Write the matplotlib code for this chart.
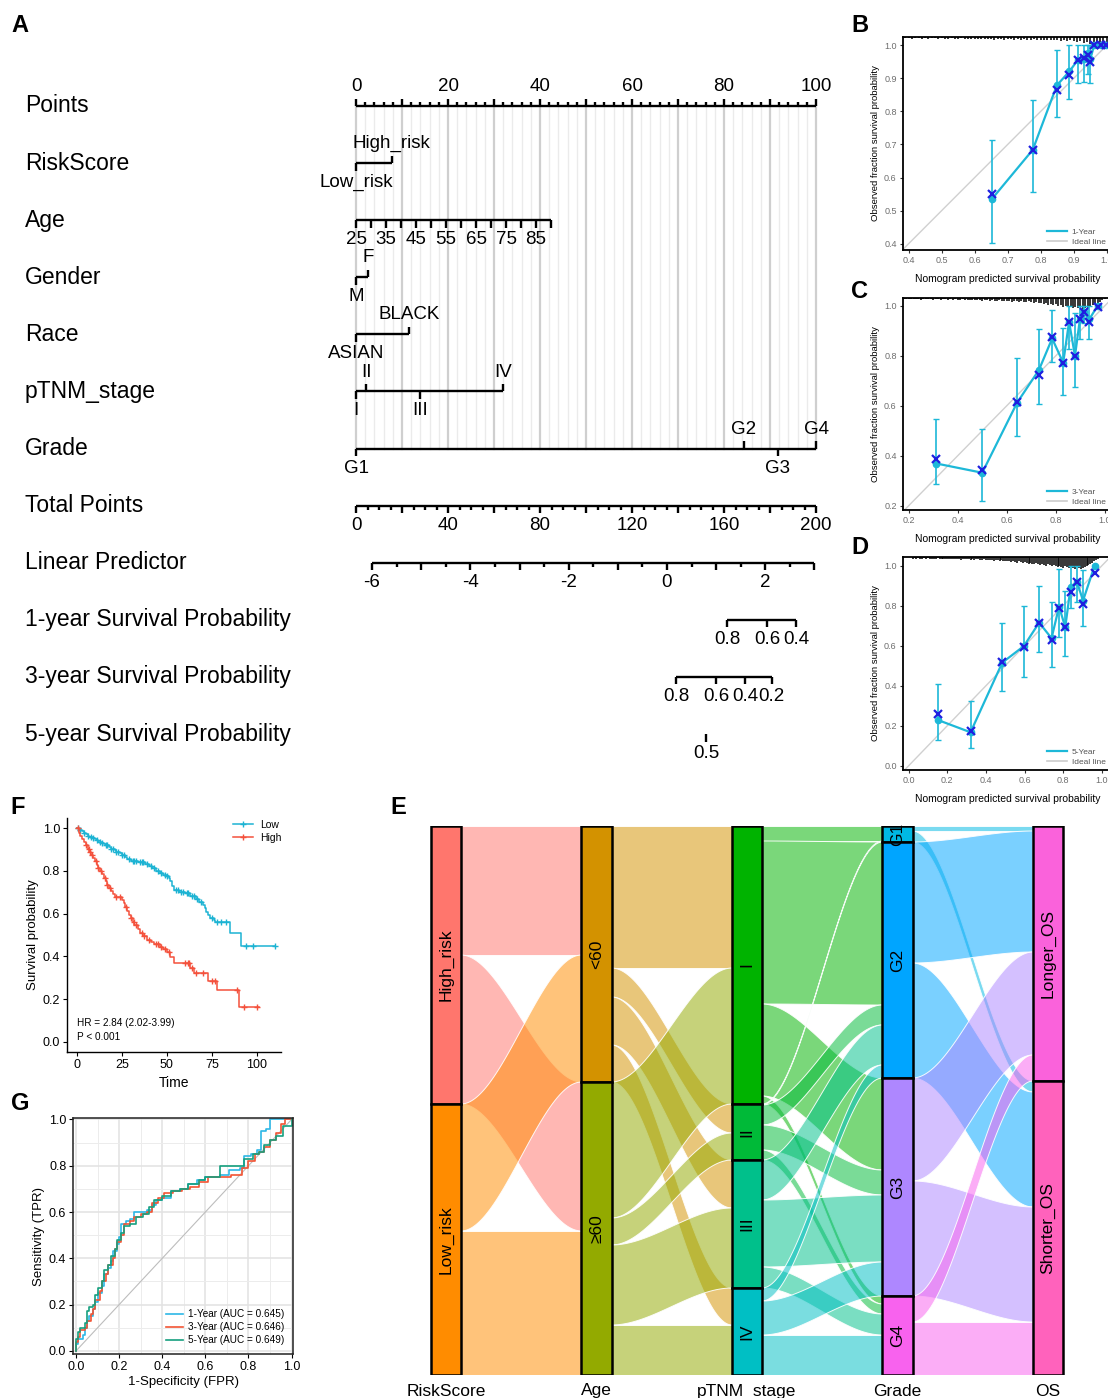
import matplotlib
matplotlib.use('Agg')
import matplotlib.pyplot as plt
import matplotlib.transforms as mtrans
from matplotlib.patches import Rectangle, Polygon
from matplotlib.lines import Line2D
import numpy as np

plt.rcParams['font.family'] = ['Liberation Sans', 'DejaVu Sans']

W, H = 1108, 1398
fig = plt.figure(figsize=(W / 100, H / 100), dpi=100)


def add_ax(x0, y0, x1, y1):
    return fig.add_axes([x0 / W, 1 - y1 / H, (x1 - x0) / W, (y1 - y0) / H])


# ---------------------------------------------------------------- data: nomogram (A)
nomo_rows = ['Points', 'RiskScore', 'Age', 'Gender', 'Race', 'pTNM_stage', 'Grade',
             'Total Points', 'Linear Predictor', '1-year Survival Probability',
             '3-year Survival Probability', '5-year Survival Probability']
points_labels = [0, 20, 40, 60, 80, 100]
risk_levels = ['Low_risk', 'High_risk']
risk_points = [0, 7.8]
age_range = [25, 90]
age_max_points = 42.4
age_labels = [25, 35, 45, 55, 65, 75, 85]
gender_levels = ['M', 'F']
gender_points = [0, 2.6]
race_levels = ['ASIAN', 'BLACK']
race_points = [0, 11.5]
stage_levels = ['I', 'II', 'III', 'IV']
stage_points = [0, 2.2, 13.9, 32.0]
grade_levels = ['G1', 'G2', 'G3', 'G4']
grade_points = [0, 84.3, 91.7, 100]
total_labels = [0, 40, 80, 120, 160, 200]
lp_range = [-6, 3]
lp_labels = [-6, -4, -2, 0, 2]
lp_tp_at_zero = 135.2   # total points where linear predictor = 0
lp_tp_per_unit = 21.37  # total points per unit of linear predictor
surv1_labels = [0.8, 0.6, 0.4]
surv1_tp = [161.3, 178.7, 191.3]
surv3_labels = [0.8, 0.6, 0.4, 0.2]
surv3_tp = [139.2, 156.6, 169.2, 180.8]
surv5_labels = [0.5]
surv5_tp = [152.2]

# ---------------------------------------------------------------- data: calibration (B, C, D)
calB_pred = [0.652, 0.776, 0.849, 0.887, 0.912, 0.932, 0.942, 0.950, 0.962, 0.982, 0.997]
calB_obs = [0.535, 0.684, 0.879, 0.921, 0.955, 0.958, 0.977, 0.958, 1.0, 1.0, 1.0]
calB_bc = [0.550, 0.684, 0.866, 0.911, 0.955, 0.962, 0.972, 0.950, 1.0, 1.0, 1.0]
calB_lo = [0.403, 0.556, 0.783, 0.838, 0.886, 0.890, 0.914, 0.886, 1.0, 1.0, 1.0]
calB_hi = [0.714, 0.835, 0.987, 1.0, 1.0, 1.0, 1.0, 1.0, 1.0, 1.0, 1.0]
rugB_h = [0.004, 0.003, 0.005, 0.004, 0.003, 0.005, 0.004, 0.006, 0.004, 0.003,
          0.005, 0.004, 0.006, 0.005, 0.004, 0.006, 0.005, 0.004, 0.006, 0.005,
          0.006, 0.005, 0.007, 0.006, 0.005, 0.007, 0.006, 0.008, 0.006, 0.007,
          0.008, 0.006, 0.007, 0.009, 0.007, 0.008, 0.006, 0.009, 0.008, 0.007,
          0.009, 0.008, 0.010, 0.009, 0.008, 0.010, 0.009, 0.011, 0.010, 0.012,
          0.010, 0.012, 0.015, 0.013, 0.018, 0.016, 0.022, 0.020, 0.026, 0.024,
          0.020, 0.016]
rugB_start = 0.39

calC_pred = [0.313, 0.500, 0.642, 0.731, 0.785, 0.830, 0.854, 0.878, 0.898, 0.914, 0.936, 0.970]
calC_obs = [0.369, 0.332, 0.612, 0.743, 0.869, 0.772, 0.936, 0.799, 0.945, 0.973, 0.945, 1.0]
calC_bc = [0.389, 0.343, 0.616, 0.725, 0.873, 0.769, 0.936, 0.799, 0.945, 0.973, 0.936, 0.996]
calC_lo = [0.287, 0.219, 0.479, 0.609, 0.776, 0.643, 0.829, 0.676, 0.865, 0.930, 0.868, 1.0]
calC_hi = [0.549, 0.507, 0.789, 0.905, 0.983, 0.912, 1.0, 0.969, 1.0, 1.0, 1.0, 1.0]
rugC_h = [0.005, 0.004, 0.006, 0.005, 0.004, 0.006, 0.005, 0.007, 0.005, 0.004,
          0.006, 0.005, 0.007, 0.006, 0.005, 0.007, 0.006, 0.005, 0.007, 0.006,
          0.008, 0.006, 0.007, 0.008, 0.006, 0.009, 0.007, 0.008, 0.009, 0.007,
          0.010, 0.008, 0.011, 0.009, 0.010, 0.012, 0.009, 0.011, 0.013, 0.010,
          0.012, 0.014, 0.011, 0.013, 0.015, 0.012, 0.014, 0.016, 0.013, 0.015,
          0.018, 0.014, 0.017, 0.020, 0.016, 0.019, 0.022, 0.025, 0.021, 0.028,
          0.024, 0.030, 0.026, 0.034, 0.029, 0.036, 0.031, 0.038, 0.033, 0.040,
          0.035, 0.042, 0.037, 0.044, 0.039, 0.040, 0.036, 0.030, 0.025, 0.020,
          0.015, 0.010, 0.006]
rugC_start = 0.18

calD_pred = [0.152, 0.320, 0.484, 0.596, 0.675, 0.739, 0.778, 0.810, 0.838, 0.871, 0.902, 0.962]
calD_obs = [0.228, 0.167, 0.515, 0.598, 0.715, 0.637, 0.795, 0.692, 0.895, 0.917, 0.825, 1.0]
calD_bc = [0.258, 0.175, 0.520, 0.595, 0.712, 0.628, 0.790, 0.692, 0.870, 0.920, 0.810, 0.962]
calD_lo = [0.128, 0.087, 0.375, 0.445, 0.567, 0.495, 0.645, 0.550, 0.787, 0.820, 0.698, 1.0]
calD_hi = [0.408, 0.323, 0.712, 0.798, 0.900, 0.820, 0.982, 0.875, 1.0, 1.0, 0.978, 1.0]
rugD_h = [0.008, 0.006, 0.009, 0.007, 0.010, 0.008, 0.006, 0.009, 0.007, 0.010,
          0.008, 0.011, 0.009, 0.007, 0.010, 0.008, 0.011, 0.009, 0.012, 0.010,
          0.008, 0.011, 0.009, 0.012, 0.010, 0.013, 0.011, 0.009, 0.012, 0.010,
          0.013, 0.011, 0.014, 0.012, 0.010, 0.013, 0.015, 0.012, 0.014, 0.016,
          0.013, 0.015, 0.018, 0.014, 0.017, 0.020, 0.016, 0.019, 0.022, 0.018,
          0.021, 0.025, 0.020, 0.024, 0.028, 0.022, 0.027, 0.031, 0.025, 0.030,
          0.034, 0.028, 0.033, 0.037, 0.031, 0.036, 0.040, 0.034, 0.039, 0.043,
          0.037, 0.042, 0.046, 0.040, 0.045, 0.050, 0.043, 0.048, 0.053, 0.046,
          0.051, 0.056, 0.049, 0.054, 0.058, 0.052, 0.057, 0.060, 0.055, 0.050,
          0.045, 0.040, 0.034, 0.028, 0.020, 0.014, 0.008]
rugD_start = 0.02

# ---------------------------------------------------------------- data: Kaplan-Meier (F)
low_times = [1, 2, 3, 4, 5, 6, 7, 9, 10, 11, 12, 14, 15, 16, 18, 19, 21, 22, 24, 25,
             27, 28, 30, 34, 38, 40, 42, 44, 46, 48, 50, 51, 52, 53, 54, 57, 60, 63, 66, 68,
             70, 71, 72, 73, 74, 76, 77, 85, 91]
low_surv = [0.995, 0.99, 0.985, 0.978, 0.972, 0.966, 0.96, 0.955, 0.948, 0.943, 0.938,
            0.932, 0.926, 0.92, 0.913, 0.905, 0.898, 0.891, 0.884, 0.877, 0.866, 0.858,
            0.848, 0.84, 0.832, 0.823, 0.812, 0.801, 0.79, 0.782, 0.775, 0.765, 0.755,
            0.73, 0.71, 0.702, 0.695, 0.683, 0.668, 0.655, 0.64, 0.625, 0.61, 0.595,
            0.58, 0.57, 0.5625, 0.508, 0.448]
low_end = 110
low_censor = [0.5, 2, 4, 6, 8, 9, 11, 13, 14, 16, 17, 19, 20, 22, 23, 25, 26, 29, 31, 32,
              33, 35, 36, 37, 39, 41, 43, 45, 47, 49, 50, 55, 56, 58, 59, 61, 62, 64, 65,
              67, 69, 75, 78, 80, 83, 94, 98, 110]
high_times = [1, 2, 3, 4, 5, 6, 7, 8, 9, 10, 11, 12, 13, 14, 15, 16, 17, 18, 19, 20, 21,
              25, 26, 27, 28, 29, 30, 31, 32, 34, 35, 37, 39, 41, 43, 46, 48, 50, 52, 54,
              63, 65, 73, 78, 90]
high_surv = [0.98, 0.965, 0.95, 0.935, 0.92, 0.905, 0.89, 0.875, 0.86, 0.845, 0.83,
             0.815, 0.8, 0.785, 0.768, 0.752, 0.736, 0.72, 0.705, 0.69, 0.677, 0.664,
             0.648, 0.633, 0.614, 0.594, 0.578, 0.562, 0.545, 0.53, 0.51, 0.494, 0.477,
             0.468, 0.46, 0.445, 0.434, 0.422, 0.398, 0.367, 0.344, 0.323, 0.286, 0.242,
             0.164]
high_end = 101
high_censor = [0.5, 5, 6.5, 7.5, 8.5, 10.5, 12, 13.5, 15.5, 17, 18.5, 22, 24, 27.5, 30,
               31.5, 33, 36, 37.5, 40, 44, 45, 47, 49, 51, 60, 61.5, 62.5, 64, 66, 70, 75,
               77, 89, 93, 100]

# ---------------------------------------------------------------- data: ROC (G)
roc1_fpr = [0, 0, 0.01, 0.03, 0.04, 0.05, 0.06, 0.08, 0.09, 0.10, 0.12, 0.13, 0.15, 0.16,
            0.17, 0.19, 0.20, 0.21, 0.23, 0.25, 0.27, 0.30, 0.33, 0.35, 0.37, 0.40, 0.44,
            0.48, 0.52, 0.56, 0.60, 0.67, 0.71, 0.76, 0.78, 0.81, 0.84, 0.86, 0.88, 0.90, 1.0]
roc1_tpr = [0, 0.03, 0.05, 0.07, 0.10, 0.13, 0.15, 0.18, 0.21, 0.25, 0.28, 0.33, 0.36,
            0.39, 0.43, 0.46, 0.49, 0.55, 0.56, 0.57, 0.60, 0.60, 0.61, 0.63, 0.65, 0.66,
            0.69, 0.70, 0.72, 0.74, 0.75, 0.76, 0.78, 0.79, 0.84, 0.85, 0.87, 0.95, 0.96,
            1.0, 1.0]
roc3_fpr = [0, 0, 0.01, 0.02, 0.04, 0.05, 0.07, 0.08, 0.09, 0.11, 0.12, 0.14, 0.15, 0.17,
            0.18, 0.19, 0.21, 0.22, 0.25, 0.27, 0.30, 0.33, 0.35, 0.38, 0.41, 0.45, 0.49,
            0.53, 0.57, 0.61, 0.68, 0.72, 0.77, 0.80, 0.83, 0.85, 0.87, 0.90, 0.93, 0.95,
            0.97, 1.0]
roc3_tpr = [0, 0.04, 0.06, 0.09, 0.10, 0.13, 0.16, 0.18, 0.22, 0.26, 0.30, 0.33, 0.37,
            0.40, 0.44, 0.47, 0.50, 0.55, 0.56, 0.58, 0.59, 0.60, 0.64, 0.66, 0.68, 0.69,
            0.70, 0.71, 0.73, 0.75, 0.75, 0.76, 0.79, 0.82, 0.85, 0.86, 0.88, 0.91, 0.94,
            0.98, 1.0, 1.0]
roc5_fpr = [0, 0, 0.01, 0.02, 0.04, 0.05, 0.06, 0.08, 0.09, 0.10, 0.12, 0.13, 0.15, 0.16,
            0.18, 0.19, 0.21, 0.22, 0.25, 0.28, 0.31, 0.34, 0.36, 0.40, 0.44, 0.48, 0.52,
            0.57, 0.60, 0.66, 0.67, 0.70, 0.76, 0.78, 0.82, 0.85, 0.87, 0.90, 0.93, 0.96, 1.0]
roc5_tpr = [0, 0.05, 0.08, 0.10, 0.12, 0.17, 0.19, 0.20, 0.24, 0.27, 0.30, 0.35, 0.37,
            0.41, 0.44, 0.48, 0.51, 0.54, 0.55, 0.58, 0.59, 0.62, 0.65, 0.67, 0.69, 0.70,
            0.72, 0.74, 0.75, 0.75, 0.80, 0.80, 0.80, 0.83, 0.85, 0.86, 0.89, 0.91, 0.93,
            0.97, 1.0]
roc_labels = ['1-Year (AUC = 0.645)', '3-Year (AUC = 0.646)', '5-Year (AUC = 0.649)']

# ---------------------------------------------------------------- data: alluvial (E)
alluv_axes = ['RiskScore', 'Age', 'pTNM_stage', 'Grade', 'OS']
alluv_strata = [['High_risk', 'Low_risk'], ['<60', '\u226560'], ['I', 'II', 'III', 'IV'],
                ['G1', 'G2', 'G3', 'G4'], ['Longer_OS', 'Shorter_OS']]
risk_age = [[129, 149], [127, 144]]
age_stage = [[142, 29, 48, 37], [136, 27, 80, 50]]
stage_grade = [[15, 163, 92, 8], [1, 20, 25, 10], [0, 40, 67, 21], [0, 13, 34, 40]]
grade_os = [[5, 11], [121, 115], [103, 115], [26, 53]]
alluv_pairs = [risk_age, age_stage, stage_grade, grade_os]
alluv_colors = [['#FF766D', '#FF8C00'], ['#D39200', '#93AA00'],
                ['#00B300', '#00BA38', '#00C08B', '#00BFC4'],
                ['#00B9E3', '#00A5FF', '#AE87FF', '#F862EE'],
                ['#FA62DB', '#FF62BC']]

# ================================================================ panel A: nomogram
axA = add_ax(0, 60, 860, 780)
px_per_pt = 4.6
x0_px = 356
axA.set_xlim(-x0_px / px_per_pt, (860 - x0_px) / px_per_pt)
row_px0, row_step = 106, 57.1
axA.set_ylim((780 - row_px0) / row_step, (60 - row_px0) / row_step)
axA.axis('off')

LW = 1.7
TICK_FS = 13.5
lab_tr = mtrans.blended_transform_factory(fig.transFigure, axA.transData)
for i, name in enumerate(nomo_rows):
    axA.text(25 / W, i, name, transform=lab_tr, fontsize=16.5, ha='left', va='center')

# vertical grid
for p in np.arange(0, 100.01, 2):
    major = abs(p / 10 - round(p / 10)) < 1e-6
    axA.plot([p, p], [0, 6], color='#CFCFCF' if major else '#EBEBEB',
             lw=1.6 if major else 1.0, zorder=0)

OFF = 0.34
TL, TS = 0.13, 0.075


def hline(row, a, b):
    axA.plot([a, b], [row, row], color='k', lw=LW, solid_capstyle='butt', zorder=2)


def vtick(row, x, up, length):
    axA.plot([x, x], [row, row - length if up else row + length], color='k', lw=LW,
             solid_capstyle='butt', zorder=2)


def lab(row, x, s, up):
    axA.text(x, row - OFF if up else row + OFF, s, fontsize=TICK_FS, ha='center',
             va='center', zorder=3)


# Points
hline(0, 0, 100)
for p in np.arange(0, 100.01, 2):
    vtick(0, p, True, TL if p % 10 == 0 else TS)
for p in points_labels:
    lab(0, p, str(p), True)

# categorical rows
def cat_row(row, levels, pts, above):
    hline(row, min(pts), max(pts))
    for lv, p, up in zip(levels, pts, above):
        vtick(row, p, up, TL)
        lab(row, p, lv, up)


cat_row(1, risk_levels, risk_points, [False, True])
cat_row(3, gender_levels, gender_points, [False, True])
cat_row(4, race_levels, race_points, [False, True])
cat_row(5, stage_levels, stage_points, [False, True, False, True])
cat_row(6, grade_levels, grade_points, [False, True, False, True])

# Age
age_ticks = np.arange(age_range[0], age_range[1] + 1, 5)
age_x = np.interp(age_ticks, age_range, [0, age_max_points])
hline(2, age_x[0], age_x[-1])
for a, x in zip(age_ticks, age_x):
    vtick(2, x, False, TL)
    if a in age_labels:
        lab(2, x, str(a), False)

# Total points (x = TP / 2)
hline(7, 0, 100)
for tp in np.arange(0, 201, 5):
    vtick(7, tp / 2, False, TL if tp % 20 == 0 else TS)
for tp in total_labels:
    lab(7, tp / 2, str(tp), False)

# Linear predictor
def lp_x(v):
    return (lp_tp_at_zero + lp_tp_per_unit * np.asarray(v)) / 2


hline(8, lp_x(lp_range[0]), lp_x(lp_range[1]))
for v in np.arange(lp_range[0], lp_range[1] + 0.01, 0.5):
    vtick(8, lp_x(v), False, TL if abs(v - round(v)) < 1e-6 else TS)
for v in lp_labels:
    lab(8, lp_x(v), str(v), False)

# survival probabilities
for row, labs, tps in [(9, surv1_labels, surv1_tp), (10, surv3_labels, surv3_tp),
                       (11, surv5_labels, surv5_tp)]:
    xs = np.asarray(tps) / 2
    if len(xs) > 1:
        hline(row, xs.min(), xs.max())
    for s, x in zip(labs, xs):
        vtick(row, x, False, TL)
        lab(row, x, f'{s:g}', False)

# ================================================================ panels B, C, D: calibration
CYAN = '#1DB8D8'
BLUE = '#1F1FE0'


def calib(box, xlim, ylim, ticks, pred, obs, bc, lo, hi, rug_start, rug_h, year):
    ax = add_ax(*box)
    ax.set_xlim(*xlim)
    ax.set_ylim(*ylim)
    ax.plot([-0.1, 1.1], [-0.1, 1.1], color='#D0D0D0', lw=1.0, zorder=1)
    rx = rug_start + 0.01 * np.arange(len(rug_h))
    ax.vlines(rx, ylim[1] - np.asarray(rug_h), ylim[1], color='k', lw=1.1, zorder=2)
    obs = np.asarray(obs)
    ax.errorbar(pred, obs, yerr=[obs - np.asarray(lo), np.asarray(hi) - obs], fmt='none',
                ecolor=CYAN, elinewidth=1.2, capsize=2, capthick=1.0, zorder=3)
    ax.plot(pred, obs, '-o', color=CYAN, lw=1.6, ms=4.5, zorder=4)
    ax.plot(pred, bc, 'x', color=BLUE, ms=5.5, mew=1.6, zorder=5)
    ax.set_xticks(ticks[0])
    ax.set_yticks(ticks[1])
    ax.set_xticklabels([f'{t:.1f}' for t in ticks[0]])
    ax.set_yticklabels([f'{t:.1f}' for t in ticks[1]])
    ax.tick_params(labelsize=6.5, colors='#333333', labelcolor='#6E6E6E', length=2.5,
                   width=0.8, pad=2)
    for s in ax.spines.values():
        s.set_linewidth(1.3)
    ax.set_xlabel('Nomogram predicted survival probability', fontsize=7.5, labelpad=6)
    ax.set_ylabel('Observed fraction survival probability', fontsize=6.8, labelpad=3)
    hnd = [Line2D([], [], color=CYAN, lw=1.6), Line2D([], [], color='#CCCCCC', lw=1.2)]
    ax.legend(hnd, [f'{year}-Year', 'Ideal line'], loc='lower left',
              bbox_to_anchor=(0.66, -0.01), fontsize=6, frameon=False, handlelength=2.3,
              labelspacing=0.25, labelcolor='#555555', borderpad=0.2, handletextpad=0.6)
    return ax


calib((903, 37, 1113, 250), (0.383, 1.019), (0.381, 1.025),
      (np.arange(0.4, 1.01, 0.1), np.arange(0.4, 1.01, 0.1)),
      calB_pred, calB_obs, calB_bc, calB_lo, calB_hi, rugB_start, rugB_h, 1)
calib((903, 298, 1113, 510), (0.177, 1.033), (0.183, 1.031),
      (np.arange(0.2, 1.01, 0.2), np.arange(0.2, 1.01, 0.2)),
      calC_pred, calC_obs, calC_bc, calC_lo, calC_hi, rugC_start, rugC_h, 3)
calib((903, 557, 1113, 770), (-0.0295, 1.057), (-0.0215, 1.043),
      (np.arange(0.0, 1.01, 0.2), np.arange(0.0, 1.01, 0.2)),
      calD_pred, calD_obs, calD_bc, calD_lo, calD_hi, rugD_start, rugD_h, 5)

# ================================================================ panel F: KM
KM_LOW = '#1CB3D3'
KM_HIGH = '#F4513C'
axF = add_ax(67, 817.6, 281, 1052.4)
axF.set_xlim(-5.5, 113.4)
axF.set_ylim(-0.05, 1.05)


def km(ax, times, surv, end, censor, color):
    xs = np.r_[0, times, end]
    ys = np.r_[1.0, surv, surv[-1]]
    ax.step(xs, ys, where='post', color=color, lw=1.1)
    idx = np.searchsorted(np.asarray(times), np.asarray(censor), side='right')
    cy = np.r_[1.0, surv][idx]
    ax.plot(censor, cy, '+', color=color, ms=5, mew=1.0, ls='none')


km(axF, low_times, low_surv, low_end, low_censor, KM_LOW)
km(axF, high_times, high_surv, high_end, high_censor, KM_HIGH)
axF.set_xticks([0, 25, 50, 75, 100])
axF.set_yticks([0, 0.2, 0.4, 0.6, 0.8, 1.0])
axF.set_yticklabels(['0.0', '0.2', '0.4', '0.6', '0.8', '1.0'])
axF.tick_params(labelsize=9, length=3, width=0.8, pad=2)
for s in ['top', 'right']:
    axF.spines[s].set_visible(False)
for s in ['left', 'bottom']:
    axF.spines[s].set_linewidth(1.0)
axF.set_xlabel('Time', fontsize=10, labelpad=3)
axF.set_ylabel('Survival probability', fontsize=9.5, labelpad=3)
axF.text(0, 0.088, 'HR = 2.84 (2.02-3.99)', fontsize=7.2, ha='left', va='center')
axF.text(0, 0.022, 'P < 0.001', fontsize=7.2, ha='left', va='center')
axF.legend([Line2D([], [], color=KM_LOW, marker='+', ms=5, lw=1.1),
            Line2D([], [], color=KM_HIGH, marker='+', ms=5, lw=1.1)], ['Low', 'High'],
           loc='upper left', bbox_to_anchor=(0.73, 1.03), fontsize=7.5, frameon=False,
           handlelength=2.0, labelspacing=0.3, handletextpad=0.6)

# ================================================================ panel G: ROC
axG = add_ax(73.3, 1118.3, 293.3, 1354.3)
axG.set_xlim(-0.013, 1.008)
axG.set_ylim(-0.015, 1.005)
axG.set_xticks(np.arange(0, 1.01, 0.2))
axG.set_yticks(np.arange(0, 1.01, 0.2))
axG.set_xticks(np.arange(0.1, 1.0, 0.2), minor=True)
axG.set_yticks(np.arange(0.1, 1.0, 0.2), minor=True)
axG.set_xticklabels([f'{t:.1f}' for t in np.arange(0, 1.01, 0.2)])
axG.set_yticklabels([f'{t:.1f}' for t in np.arange(0, 1.01, 0.2)])
axG.grid(which='major', color='#E2E2E2', lw=1.1)
axG.grid(which='minor', color='#ECECEC', lw=0.7)
axG.set_axisbelow(True)
axG.tick_params(which='major', labelsize=9, length=3, width=0.8, pad=2)
axG.tick_params(which='minor', length=0)
for s in axG.spines.values():
    s.set_linewidth(1.1)
    s.set_color('#222222')
axG.plot([0, 1], [0, 1], color='#BDBDBD', lw=0.8)
roc_cols = ['#2DB8E6', '#F25434', '#17A07F']
for f, t, c in [(roc1_fpr, roc1_tpr, roc_cols[0]), (roc3_fpr, roc3_tpr, roc_cols[1]),
                (roc5_fpr, roc5_tpr, roc_cols[2])]:
    axG.step(f, t, where='post', color=c, lw=1.2)
axG.set_xlabel('1-Specificity (FPR)', fontsize=9.5, labelpad=2)
axG.set_ylabel('Sensitivity (TPR)', fontsize=9.5, labelpad=3)
axG.legend([Line2D([], [], color=c, lw=1.2) for c in roc_cols], roc_labels,
           loc='lower right', bbox_to_anchor=(1.0, 0.0), fontsize=7.2, frameon=False,
           handlelength=1.7, labelspacing=0.3, handletextpad=0.5)

# ================================================================ panel E: alluvial
axE = add_ax(390, 826, 1108, 1375)
col_px = 150.5
axE.set_xlim(-(446 - 390) / col_px, (1108 - 446) / col_px)
totals = [list(np.sum(m, axis=1)) for m in alluv_pairs] + [list(np.sum(alluv_pairs[-1], axis=0))]
N = sum(totals[0])
axE.set_ylim(N, 0)
axE.axis('off')
HW = 0.1
tops = [np.r_[0, np.cumsum(t)[:-1]] for t in totals]


def sstep(t):
    return t * t * (3 - 2 * t)


tt = np.linspace(0, 1, 60)
for k, m in enumerate(alluv_pairs):
    m = np.asarray(m, dtype=float)
    xl, xr = k + HW, k + 1 - HW
    xs = xl + (xr - xl) * tt
    for a in range(m.shape[0]):
        for b in range(m.shape[1]):
            v = m[a, b]
            if v <= 0:
                continue
            yl0 = tops[k][a] + m[a, :b].sum()
            yr0 = tops[k + 1][b] + m[:a, b].sum()
            top = yl0 + (yr0 - yl0) * sstep(tt)
            bot = top + v
            poly = np.column_stack([np.r_[xs, xs[::-1]], np.r_[top, bot[::-1]]])
            col = matplotlib.colors.to_rgb(alluv_colors[k][a])
            axE.add_patch(Polygon(poly, closed=True, facecolor=(*col, 0.52),
                                  edgecolor=(1, 1, 1, 0.9), lw=0.7, zorder=1))

for k, strata in enumerate(alluv_strata):
    for j, name in enumerate(strata):
        y0 = tops[k][j]
        h = totals[k][j]
        r = Rectangle((k - HW, y0), 2 * HW, h, facecolor=alluv_colors[k][j],
                      edgecolor='black', lw=1.8, zorder=3)
        axE.add_patch(r)
        txt = axE.text(k, y0 + h / 2, name, rotation=90, ha='center', va='center',
                       fontsize=12.5, zorder=4, rotation_mode='anchor')
        txt.set_clip_path(r)
    axE.text(k, N + 16, alluv_axes[k], ha='center', va='center', fontsize=12.5,
             clip_on=False)

# ================================================================ panel letters
for s, x, y in [('A', 20, 26), ('B', 860, 26), ('C', 860, 291), ('D', 860, 547),
                ('E', 398, 807), ('F', 18, 807), ('G', 20, 1104)]:
    fig.text(x / W, 1 - y / H, s, fontsize=17, fontweight='bold', ha='center', va='center')

fig.savefig('out.png', dpi=100)
